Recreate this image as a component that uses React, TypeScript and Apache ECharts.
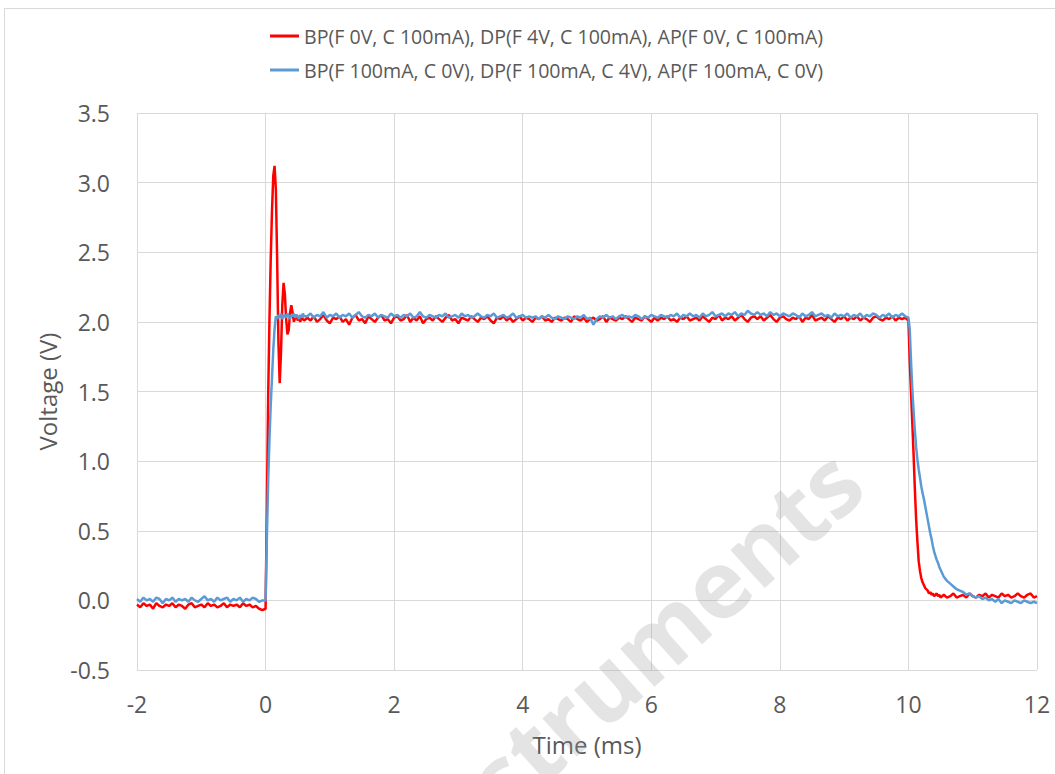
import React, { useEffect, useRef } from "react";
import * as echarts from "echarts";

// Sample instants in ms: 0.05 ms on the plateaus, 0.02 ms around both edges
const sampleTimes = [
  -2.00, -1.95, -1.90, -1.85, -1.80, -1.75, -1.70, -1.65, -1.60, -1.55,
  -1.50, -1.45, -1.40, -1.35, -1.30, -1.25, -1.20, -1.15, -1.10, -1.05,
  -1.00, -0.95, -0.90, -0.85, -0.80, -0.75, -0.70, -0.65, -0.60, -0.55,
  -0.50, -0.45, -0.40, -0.35, -0.30, -0.25, -0.20, -0.15, -0.10, -0.05,
  0.00, 0.02, 0.04, 0.06, 0.08, 0.10, 0.12, 0.14, 0.16, 0.18,
  0.20, 0.22, 0.24, 0.26, 0.28, 0.30, 0.32, 0.34, 0.36, 0.38,
  0.40, 0.42, 0.44, 0.46, 0.48, 0.50, 0.52, 0.54, 0.56, 0.58, 0.60,
  0.65, 0.70, 0.75, 0.80, 0.85, 0.90, 0.95, 1.00, 1.05, 1.10,
  1.15, 1.20, 1.25, 1.30, 1.35, 1.40, 1.45, 1.50, 1.55, 1.60,
  1.65, 1.70, 1.75, 1.80, 1.85, 1.90, 1.95, 2.00, 2.05, 2.10,
  2.15, 2.20, 2.25, 2.30, 2.35, 2.40, 2.45, 2.50, 2.55, 2.60,
  2.65, 2.70, 2.75, 2.80, 2.85, 2.90, 2.95, 3.00, 3.05, 3.10,
  3.15, 3.20, 3.25, 3.30, 3.35, 3.40, 3.45, 3.50, 3.55, 3.60,
  3.65, 3.70, 3.75, 3.80, 3.85, 3.90, 3.95, 4.00, 4.05, 4.10,
  4.15, 4.20, 4.25, 4.30, 4.35, 4.40, 4.45, 4.50, 4.55, 4.60,
  4.65, 4.70, 4.75, 4.80, 4.85, 4.90, 4.95, 5.00, 5.05, 5.10,
  5.15, 5.20, 5.25, 5.30, 5.35, 5.40, 5.45, 5.50, 5.55, 5.60,
  5.65, 5.70, 5.75, 5.80, 5.85, 5.90, 5.95, 6.00, 6.05, 6.10,
  6.15, 6.20, 6.25, 6.30, 6.35, 6.40, 6.45, 6.50, 6.55, 6.60,
  6.65, 6.70, 6.75, 6.80, 6.85, 6.90, 6.95, 7.00, 7.05, 7.10,
  7.15, 7.20, 7.25, 7.30, 7.35, 7.40, 7.45, 7.50, 7.55, 7.60,
  7.65, 7.70, 7.75, 7.80, 7.85, 7.90, 7.95, 8.00, 8.05, 8.10,
  8.15, 8.20, 8.25, 8.30, 8.35, 8.40, 8.45, 8.50, 8.55, 8.60,
  8.65, 8.70, 8.75, 8.80, 8.85, 8.90, 8.95, 9.00, 9.05, 9.10,
  9.15, 9.20, 9.25, 9.30, 9.35, 9.40, 9.45, 9.50, 9.55, 9.60,
  9.65, 9.70, 9.75, 9.80, 9.85, 9.90, 9.95,
  10.00, 10.02, 10.04, 10.06, 10.08, 10.10, 10.12, 10.14, 10.16, 10.18,
  10.20, 10.22, 10.24, 10.26, 10.28, 10.30, 10.32, 10.34, 10.36, 10.38,
  10.40, 10.42, 10.44, 10.46, 10.48, 10.50,
  10.55, 10.60, 10.65, 10.70, 10.75, 10.80, 10.85, 10.90, 10.95, 11.00,
  11.05, 11.10, 11.15, 11.20, 11.25, 11.30, 11.35, 11.40, 11.45, 11.50,
  11.55, 11.60, 11.65, 11.70, 11.75, 11.80, 11.85, 11.90, 11.95, 12.00,
];

// Voltage (V): force 0V / clamp 100mA
const clampVolts = [
  -0.03, -0.05, -0.02, -0.04, -0.03, -0.06, -0.02, -0.04, -0.05, -0.03,
  -0.04, -0.02, -0.05, -0.03, -0.04, -0.06, -0.03, -0.02, -0.05, -0.04,
  -0.03, -0.05, -0.02, -0.04, -0.03, -0.05, -0.04, -0.02, -0.05, -0.03,
  -0.04, -0.03, -0.05, -0.02, -0.04, -0.03, -0.05, -0.04, -0.06, -0.07,
  -0.06, 0.65, 1.45, 2.00, 2.45, 2.80, 3.05, 3.12, 2.95, 2.45,
  1.85, 1.56, 1.78, 2.12, 2.28, 2.20, 2.02, 1.91, 1.94, 2.06,
  2.12, 2.07, 2.00, 2.03, 2.05, 2.01, 2.03, 2.00, 2.04, 2.02, 2.01,
  2.03, 2.01, 2.04, 2.00, 2.02, 2.05, 2.01, 1.99, 2.03, 2.02,
  2.04, 2.00, 2.02, 1.98, 2.03, 2.05, 2.01, 2.02, 1.99, 2.04,
  2.02, 2.00, 2.03, 2.05, 2.01, 2.02, 1.99, 2.03, 2.04, 2.01,
  2.02, 2.05, 2.00, 2.03, 2.01, 2.04, 1.99, 2.02, 2.03, 2.01,
  2.04, 2.02, 2.00, 2.03, 2.05, 2.01, 2.02, 1.99, 2.03, 2.02,
  2.01, 2.04, 2.02, 2.00, 2.03, 2.02, 2.04, 2.01, 1.99, 2.03,
  2.02, 2.04, 2.01, 2.03, 2.00, 2.02, 2.04, 2.01, 2.03, 2.02,
  2.00, 2.03, 2.02, 2.04, 2.01, 2.02, 2.00, 2.03, 2.02, 2.01,
  2.03, 2.02, 2.00, 2.04, 2.02, 2.01, 2.03, 2.00, 2.02, 2.03,
  2.01, 2.02, 2.04, 2.00, 2.03, 2.02, 2.01, 2.03, 2.02, 2.04,
  2.02, 2.00, 2.03, 2.02, 2.01, 2.04, 2.02, 2.00, 2.03, 2.01,
  2.03, 2.02, 2.04, 2.01, 2.02, 2.00, 2.03, 2.02, 2.04, 2.01,
  2.02, 2.03, 2.01, 2.04, 2.02, 2.00, 2.03, 2.02, 2.05, 2.01,
  2.03, 2.02, 2.04, 2.01, 2.03, 2.05, 2.02, 2.00, 2.03, 2.04,
  2.02, 2.04, 2.01, 2.03, 2.05, 2.02, 2.00, 2.03, 2.04, 2.02,
  2.01, 2.03, 2.02, 2.04, 2.00, 2.03, 2.02, 2.05, 2.01, 2.02,
  2.03, 2.01, 2.04, 2.02, 2.00, 2.03, 2.02, 2.04, 2.01, 2.03,
  2.02, 2.04, 2.01, 2.03, 2.02, 2.00, 2.03, 2.04, 2.02, 2.01,
  2.03, 2.02, 2.04, 2.01, 2.03, 2.02, 2.03,
  2.01, 1.72, 1.50, 1.28, 1.05, 0.80, 0.58, 0.42, 0.28, 0.21,
  0.16, 0.13, 0.11, 0.09, 0.08, 0.07, 0.05, 0.06, 0.04, 0.05,
  0.03, 0.04, 0.05, 0.03, 0.04, 0.02,
  0.04, 0.02, 0.03, 0.05, 0.02, 0.03, 0.04, 0.02, 0.05, 0.03,
  0.02, 0.04, 0.03, 0.05, 0.02, 0.04, 0.03, 0.02, 0.05, 0.03,
  0.04, 0.02, 0.03, 0.05, 0.03, 0.02, 0.04, 0.05, 0.02, 0.03,
];

// Voltage (V): force 100mA / clamp 0V
const forceVolts = [
  0.01, -0.01, 0.02, 0.00, 0.01, -0.01, 0.02, 0.01, -0.02, 0.01,
  0.00, 0.02, -0.01, 0.01, 0.00, 0.01, -0.01, 0.02, 0.00, -0.01,
  0.01, 0.03, 0.00, 0.01, -0.01, 0.02, 0.00, 0.01, 0.02, -0.01,
  0.01, 0.00, 0.02, -0.01, 0.01, 0.00, 0.02, 0.01, -0.01, 0.00,
  0.00, 0.45, 0.85, 1.15, 1.40, 1.60, 1.80, 1.95, 2.04, 2.02,
  2.05, 2.03, 2.06, 2.02, 2.04, 2.05, 2.03, 2.06, 2.04, 2.02,
  2.05, 2.04, 2.06, 2.03, 2.05, 2.04, 2.02, 2.05, 2.03, 2.06, 2.04,
  2.04, 2.06, 2.03, 2.05, 2.04, 2.07, 2.03, 2.05, 2.04, 2.06,
  2.03, 2.05, 2.04, 2.06, 2.03, 2.05, 2.07, 2.04, 2.03, 2.05,
  2.04, 2.06, 2.03, 2.05, 2.04, 2.03, 2.06, 2.04, 2.05, 2.03,
  2.05, 2.04, 2.06, 2.03, 2.04, 2.07, 2.04, 2.03, 2.05, 2.04,
  2.03, 2.05, 2.04, 2.06, 2.03, 2.04, 2.05, 2.03, 2.06, 2.04,
  2.05, 2.03, 2.04, 2.06, 2.04, 2.03, 2.05, 2.04, 2.06, 2.03,
  2.04, 2.05, 2.03, 2.04, 2.06, 2.03, 2.04, 2.05, 2.03, 2.04,
  2.03, 2.04, 2.02, 2.04, 2.03, 2.05, 2.03, 2.02, 2.04, 2.03,
  2.02, 2.04, 2.03, 2.02, 2.04, 2.03, 2.05, 2.02, 2.03, 1.98,
  2.02, 2.04, 2.03, 2.05, 2.03, 2.04, 2.02, 2.04, 2.05, 2.03,
  2.04, 2.03, 2.05, 2.04, 2.02, 2.04, 2.03, 2.05, 2.04, 2.03,
  2.05, 2.04, 2.03, 2.05, 2.04, 2.06, 2.03, 2.05, 2.04, 2.06,
  2.04, 2.05, 2.03, 2.06, 2.04, 2.05, 2.07, 2.04, 2.05, 2.06,
  2.04, 2.06, 2.05, 2.07, 2.04, 2.06, 2.05, 2.08, 2.06, 2.05,
  2.07, 2.05, 2.06, 2.04, 2.07, 2.05, 2.06, 2.04, 2.06, 2.05,
  2.04, 2.06, 2.05, 2.03, 2.06, 2.04, 2.05, 2.07, 2.04, 2.05,
  2.06, 2.04, 2.05, 2.03, 2.06, 2.04, 2.05, 2.04, 2.06, 2.03,
  2.05, 2.04, 2.06, 2.03, 2.05, 2.04, 2.06, 2.05, 2.03, 2.05,
  2.04, 2.06, 2.03, 2.05, 2.04, 2.06, 2.04,
  2.03, 1.95, 1.72, 1.52, 1.36, 1.22, 1.10, 1.01, 0.94, 0.88,
  0.82, 0.77, 0.73, 0.68, 0.63, 0.58, 0.53, 0.48, 0.44, 0.39,
  0.35, 0.32, 0.29, 0.27, 0.24, 0.22,
  0.17, 0.14, 0.12, 0.10, 0.08, 0.07, 0.06, 0.04, 0.05, 0.03,
  0.02, 0.03, 0.01, 0.02, 0.00, 0.01, -0.01, 0.01, -0.02, 0.00,
  -0.01, -0.02, 0.00, -0.01, -0.02, 0.00, -0.01, -0.02, -0.01, -0.02,
];

const seriesNames = [
  "BP(F 0V, C 100mA), DP(F 4V, C 100mA), AP(F 0V, C 100mA)",
  "BP(F 100mA, C 0V), DP(F 100mA, C 4V), AP(F 100mA, C 0V)",
];
const seriesColors = ["#FF0000", "#5B9BD5"];

const FONT = "'Open Sans', 'Noto Sans', sans-serif";
const TEXT_COLOR = "#595959";
const GRID_COLOR = "#D9D9D9";

export default function App() {
  const ref = useRef<HTMLDivElement>(null);

  useEffect(() => {
    if (!ref.current) return;
    const chart = echarts.init(ref.current, undefined, { renderer: "svg" });

    const toPairs = (vals: number[]) => sampleTimes.map((t, i) => [t, vals[i]]);

    chart.setOption({
      animation: false,
      backgroundColor: "transparent",
      textStyle: { fontFamily: FONT },
      grid: { left: 137, top: 113, width: 900, height: 557, containLabel: false },
      legend: {
        orient: "vertical",
        left: 270,
        top: 25,
        padding: 0,
        itemGap: 12,
        icon: "rect",
        itemWidth: 29,
        itemHeight: 3,
        data: seriesNames,
        textStyle: { fontFamily: FONT, fontSize: 19.6, lineHeight: 22, color: TEXT_COLOR },
      },
      xAxis: {
        type: "value",
        min: -2,
        max: 12,
        interval: 2,
        name: "Time (ms)",
        nameLocation: "middle",
        nameGap: 62,
        nameTextStyle: { fontFamily: FONT, fontSize: 24, color: TEXT_COLOR },
        axisLine: { show: true, lineStyle: { color: GRID_COLOR, width: 1 } },
        axisTick: { show: false },
        axisLabel: { fontFamily: FONT, fontSize: 23, color: TEXT_COLOR, margin: 22 },
        splitLine: { show: true, lineStyle: { color: GRID_COLOR, width: 1 } },
      },
      yAxis: {
        type: "value",
        min: -0.5,
        max: 3.5,
        interval: 0.5,
        name: "Voltage (V)",
        nameLocation: "middle",
        nameGap: 78,
        nameTextStyle: { fontFamily: FONT, fontSize: 24, color: TEXT_COLOR },
        axisLine: { show: true, lineStyle: { color: GRID_COLOR, width: 1 } },
        axisTick: { show: false },
        axisLabel: {
          fontFamily: FONT,
          fontSize: 23,
          color: TEXT_COLOR,
          margin: 27,
          formatter: (v: number) => v.toFixed(1),
        },
        splitLine: { show: true, lineStyle: { color: GRID_COLOR, width: 1 } },
      },
      series: [
        {
          name: seriesNames[0],
          type: "line",
          data: toPairs(clampVolts),
          showSymbol: false,
          symbol: "none",
          color: seriesColors[0],
          lineStyle: { color: seriesColors[0], width: 2.5 },
          z: 2,
        },
        {
          name: seriesNames[1],
          type: "line",
          data: toPairs(forceVolts),
          showSymbol: false,
          symbol: "none",
          color: seriesColors[1],
          lineStyle: { color: seriesColors[1], width: 2.5 },
          z: 3,
        },
      ],
      graphic: [
        {
          type: "text",
          x: 846,
          y: 466,
          rotation: 0.731,
          z: 100,
          silent: true,
          style: {
            text: "Instruments",
            fontFamily: FONT,
            fontSize: 94,
            fontWeight: "bold",
            fill: "rgba(150,150,150,0.26)",
            align: "right",
            verticalAlign: "middle",
          },
        },
      ],
    });

    return () => chart.dispose();
  }, []);

  return (
    <div
      style={{
        position: "absolute",
        left: 0,
        top: 0,
        width: 1055,
        height: 774,
        overflow: "hidden",
        background: "#fff",
      }}
    >
      <div
        style={{
          position: "absolute",
          left: 4,
          top: 8,
          width: 1100,
          height: 800,
          borderLeft: `1px solid ${GRID_COLOR}`,
          borderTop: `1px solid ${GRID_COLOR}`,
        }}
      />
      <div
        ref={ref}
        style={{ position: "absolute", left: 0, top: 0, width: 1055, height: 774 }}
      />
    </div>
  );
}
